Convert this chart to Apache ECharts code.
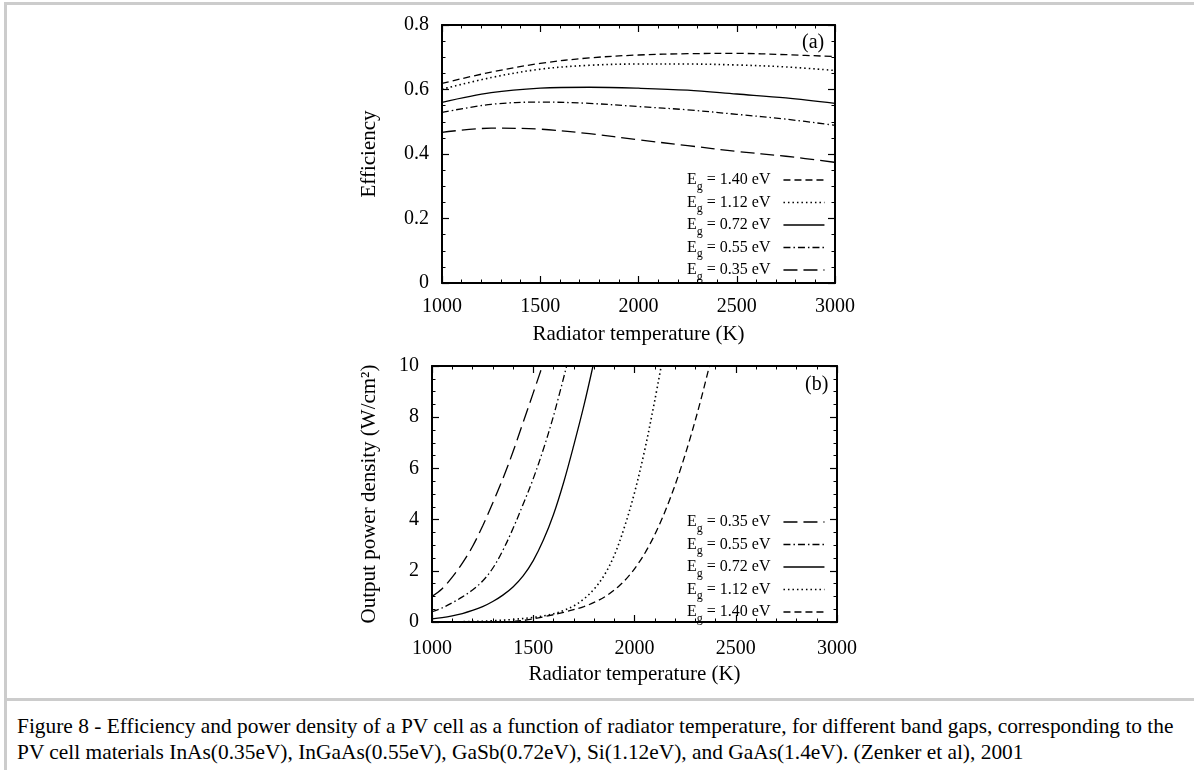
<!DOCTYPE html>
<html>
<head>
<meta charset="utf-8">
<script src="https://cdn.jsdelivr.net/npm/echarts@6/dist/echarts.min.js"></script>
<style>
    html, body { margin: 0; padding: 0; background: #fff; }
    #page { position: relative; width: 1194px; height: 775px; overflow: hidden; }
    .bar { position: absolute; background: #cccccc; }
    #chart { position: absolute; left: 0; top: 0; width: 1194px; height: 698px; }
    #caption {
        position: absolute; left: 17px; top: 713px;
        font-family: "Liberation Serif", "Times New Roman", serif;
        font-size: 21.4px; line-height: 26px; color: #000; white-space: nowrap;
    }
</style>
</head>
<body>
<div id="page">
    <div class="bar" style="left:4px; top:2px; width:1190px; height:3px;"></div>
    <div class="bar" style="left:4px; top:2px; width:3px; height:768px;"></div>
    <div class="bar" style="left:4px; top:698px; width:1190px; height:3px;"></div>
    <div id="chart"></div>
    <div id="caption">Figure 8 - Efficiency and power density of a PV cell as a function of radiator temperature, for different band gaps, corresponding to the<br>PV cell materials InAs(0.35eV), InGaAs(0.55eV), GaSb(0.72eV), Si(1.12eV), and GaAs(1.4eV). (Zenker et al), 2001</div>
</div>
<script>
// (a) 효율 - 공통 온도
const effTemps = [1000, 1250, 1500, 1750, 2000, 2250, 2500, 2750, 3000];
const eff140 = [0.619, 0.654, 0.681, 0.698, 0.707, 0.711, 0.712, 0.708, 0.702];
const eff112 = [0.601, 0.637, 0.663, 0.675, 0.679, 0.679, 0.676, 0.670, 0.659];
const eff072 = [0.560, 0.590, 0.604, 0.607, 0.604, 0.598, 0.586, 0.574, 0.557];
const eff055 = [0.529, 0.554, 0.561, 0.557, 0.547, 0.537, 0.523, 0.508, 0.489];
const eff035 = [0.467, 0.480, 0.477, 0.463, 0.444, 0.426, 0.408, 0.393, 0.374];

// (b) 출력 밀도 - 곡선마다 온도가 다름 (10 에서 끝남)
const pow035T = [1000, 1050, 1100, 1150, 1200, 1250, 1300, 1350, 1400, 1450, 1500, 1545];
const pow035  = [1.0, 1.3, 1.75, 2.3, 2.95, 3.75, 4.65, 5.6, 6.65, 7.8, 8.95, 10];
const pow055T = [1000, 1050, 1100, 1150, 1200, 1250, 1300, 1350, 1400, 1450, 1500, 1550, 1600, 1665];
const pow055  = [0.4, 0.55, 0.75, 0.98, 1.25, 1.6, 2.1, 2.8, 3.65, 4.6, 5.6, 6.75, 8.05, 10];
const pow072T = [1000, 1050, 1100, 1150, 1200, 1250, 1300, 1350, 1400, 1450, 1500, 1550, 1600, 1650, 1700, 1750, 1795];
const pow072  = [0.12, 0.17, 0.24, 0.33, 0.45, 0.6, 0.8, 1.05, 1.37, 1.8, 2.4, 3.2, 4.2, 5.45, 6.9, 8.45, 10];
const pow112T = [1000, 1200, 1300, 1400, 1500, 1550, 1600, 1650, 1700, 1750, 1800, 1850, 1900, 1950, 2000, 2050, 2100, 2132];
const pow112  = [0.0, 0.02, 0.05, 0.1, 0.18, 0.24, 0.32, 0.45, 0.63, 0.9, 1.28, 1.82, 2.6, 3.7, 5.05, 6.7, 8.65, 10];
const pow140T = [1350, 1450, 1550, 1650, 1750, 1820, 1870, 1920, 1970, 2020, 2070, 2120, 2170, 2220, 2270, 2320, 2370];
const pow140  = [0.0, 0.06, 0.2, 0.38, 0.6, 0.84, 1.07, 1.38, 1.78, 2.3, 2.95, 3.75, 4.7, 5.8, 7.05, 8.45, 10];

const gapNamesA = ['1.40', '1.12', '0.72', '0.55', '0.35'];
const gapNamesB = ['0.35', '0.55', '0.72', '1.12', '1.40'];

const FONT = '"Liberation Serif", "Times New Roman", serif';

// 선 모양 (밴드갭 별)
const dashOf = {
    '1.40': [7, 4],
    '1.12': [1.5, 3],
    '0.72': 'solid',
    '0.55': [7, 3, 1.5, 3],
    '0.35': [14, 6]
};

function pairs(xs, ys) {
    return xs.map((x, i) => [x, ys[i]]);
}

function makeSeries(name, data, axisIdx) {
    return {
        name: name,
        type: 'line',
        xAxisIndex: axisIdx,
        yAxisIndex: axisIdx,
        data: data,
        symbol: 'none',
        showSymbol: false,
        smooth: 0.35,
        clip: true,
        lineStyle: { color: '#000', width: name === '1.12' ? 1.6 : 1.3, type: dashOf[name] },
        itemStyle: { color: '#000' }
    };
}

function xAxisOf(gridIdx, pos, withLabel, labelMargin, nameGap) {
    return {
        type: 'value', gridIndex: gridIdx, position: pos,
        min: 1000, max: 3000, interval: 500,
        axisLine: { show: true, onZero: false, lineStyle: { color: '#000', width: 2 } },
        axisTick: { show: true, inside: true, length: 7, lineStyle: { color: '#000', width: 1.2 } },
        minorTick: { show: true, splitNumber: 5, length: 3.5, lineStyle: { color: '#000', width: 1 } },
        splitLine: { show: false },
        axisLabel: { show: withLabel, color: '#000', fontSize: 20, fontFamily: FONT, margin: labelMargin, formatter: v => String(v) },
        name: withLabel ? 'Radiator temperature (K)' : '',
        nameLocation: 'middle', nameGap: nameGap,
        nameTextStyle: { color: '#000', fontSize: 21, fontFamily: FONT }
    };
}

function yAxisOf(gridIdx, pos, withLabel, max, step, minor, name, nameGap, fmt) {
    return {
        type: 'value', gridIndex: gridIdx, position: pos,
        min: 0, max: max, interval: step,
        axisLine: { show: true, onZero: false, lineStyle: { color: '#000', width: 2 } },
        axisTick: { show: true, inside: true, length: 7, lineStyle: { color: '#000', width: 1.2 } },
        minorTick: { show: true, splitNumber: minor, length: 3.5, lineStyle: { color: '#000', width: 1 } },
        splitLine: { show: false },
        axisLabel: { show: withLabel, color: '#000', fontSize: 20, fontFamily: FONT, margin: 13, formatter: fmt },
        name: withLabel ? name : '',
        nameLocation: 'middle', nameGap: nameGap, nameRotate: 90,
        nameTextStyle: { color: '#000', fontSize: 21, fontFamily: FONT }
    };
}

function legendOf(names, top) {
    return {
        data: names,
        orient: 'vertical',
        left: 687, top: top,
        align: 'right',
        itemWidth: 41, itemHeight: 14, itemGap: 2,
        padding: 0,
        selectedMode: false,
        itemStyle: { opacity: 0 },
        lineStyle: { width: 1.5 },
        formatter: function (n) {
            return '{e|E}{g|g}{e| = ' + n + ' eV}';
        },
        textStyle: {
            color: '#000', fontSize: 16, fontFamily: FONT, padding: [0, 8, 0, 0],
            rich: {
                e: { fontSize: 16, fontFamily: FONT, color: '#000' },
                g: { fontSize: 12, fontFamily: FONT, color: '#000', padding: [13, 0, 0, 0] }
            }
        }
    };
}

const chart = echarts.init(document.getElementById('chart'));

const series = [];
series.push(makeSeries('1.40', pairs(effTemps, eff140), 0));
series.push(makeSeries('1.12', pairs(effTemps, eff112), 0));
series.push(makeSeries('0.72', pairs(effTemps, eff072), 0));
series.push(makeSeries('0.55', pairs(effTemps, eff055), 0));
series.push(makeSeries('0.35', pairs(effTemps, eff035), 0));

series.push(makeSeries('0.35', pairs(pow035T, pow035), 2));
series.push(makeSeries('0.55', pairs(pow055T, pow055), 2));
series.push(makeSeries('0.72', pairs(pow072T, pow072), 2));
series.push(makeSeries('1.12', pairs(pow112T, pow112), 2));
series.push(makeSeries('1.40', pairs(pow140T, pow140), 2));

const option = {
    animation: false,
    backgroundColor: 'transparent',
    title: [
        { text: '(a)', left: 797, top: 28, textStyle: { color: '#000', fontSize: 20, fontWeight: 'normal', fontFamily: FONT } },
        { text: '(b)', left: 800, top: 370, textStyle: { color: '#000', fontSize: 20, fontWeight: 'normal', fontFamily: FONT } }
    ],
    grid: [
        { left: 442, top: 25, width: 393, height: 258 },
        { left: 432, top: 366, width: 405, height: 256 }
    ],
    xAxis: [
        xAxisOf(0, 'bottom', true, 14, 41),
        xAxisOf(0, 'top', false, 12, 0),
        xAxisOf(1, 'bottom', true, 17, 42),
        xAxisOf(1, 'top', false, 12, 0)
    ],
    yAxis: [
        yAxisOf(0, 'left', true, 0.8, 0.2, 4, 'Efficiency', 62, v => v === 0 ? '0' : v.toFixed(1)),
        yAxisOf(0, 'right', false, 0.8, 0.2, 4, '', 0, null),
        yAxisOf(1, 'left', true, 10, 2, 4, 'Output power density (W/cm\u00b2)', 52, v => String(v)),
        yAxisOf(1, 'right', false, 10, 2, 4, '', 0, null)
    ],
    legend: [legendOf(gapNamesA, 172), legendOf(gapNamesB, 514)],
    series: series
};

chart.setOption(option);
</script>
</body>
</html>
